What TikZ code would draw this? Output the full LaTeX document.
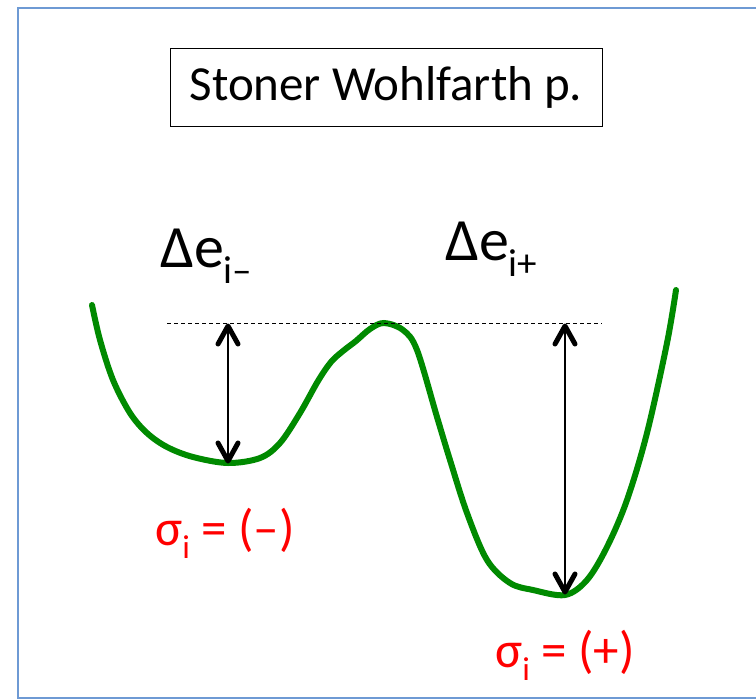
\documentclass[tikz,border=0pt]{standalone}
\usepackage{fontspec}
\setmainfont{Carlito}
\usepackage{tikz}
\usepackage{xcolor}
\usetikzlibrary{arrows.meta,positioning,calc}
\definecolor{ink}     {HTML}{000000}
\definecolor{wellgrn} {HTML}{008A00}
\definecolor{sigred}  {HTML}{FF0000}
\definecolor{framblue}{HTML}{6E9AD4}
\newcommand{\lowsub}[1]{\raisebox{-0.27em}{\scalebox{0.65}{#1}}}

\tikzset{
  titlebox/.style={draw=ink,line width=1pt,minimum width=432pt,minimum height=78pt,inner sep=0pt,font=\fontsize{49}{56}\selectfont},
  dlabel/.style={anchor=base west,inner sep=0pt,font=\fontsize{60}{70}\selectfont},
  slabel/.style={anchor=base west,inner sep=0pt,text=sigred,font=\fontsize{51}{60}\selectfont},
  well/.style={draw=wellgrn,line width=6pt,line cap=round},
  gap/.style={draw=ink,line width=1.6pt},
  barbhead/.style={draw=ink,line width=5pt,line cap=round,line join=round},
  level/.style={draw=ink,line width=0.9pt,dash pattern=on 4pt off 3pt}
}

\begin{document}
\begin{tikzpicture}[x=1pt,y=-1pt]
    \useasboundingbox (0,0) rectangle (756,699);
    \draw[framblue,line width=2pt] (18,8) rectangle (780,698);

    \node[titlebox] (title) at (386,87) {Stoner Wohlfarth p.};

    % energy landscape
    \draw[well] plot[smooth,tension=0.55] coordinates {(92,305) (100,340) (113,380) (130,413) (147,433) (167,447) (193,457) (228,463) (260,458) (280,443) (300,413) (318,381) (331,362) (343,351) (356,341) (370,329) (384,323) (403,330) (417,350) (437,417) (450,460) (467,513) (487,560) (510,583) (533,590) (565,595) (587,580) (607,547) (627,500) (647,433) (667,343) (676,290)};

    \coordinate (dashL) at (167,323);
    \coordinate (dashR) at (602,323);
    \coordinate (topL) at (228,326);
    \coordinate (minL) at (228,461);
    \coordinate (topR) at (565,326);
    \coordinate (minR) at (565,592);

    \draw[level] (dashL) -- (dashR);
    \draw[gap] (topL) -- (minL);
    \draw[gap] (topR) -- (minR);
    % heads
    \foreach \p in {topL,topR}
      \draw[barbhead] ($(\p)+(-10,18)$) -- (\p) -- ($(\p)+(10,18)$);
    \foreach \p in {minL,minR}
      \draw[barbhead] ($(\p)+(-10,-18)$) -- (\p) -- ($(\p)+(10,-18)$);

    \node[dlabel] (dminus) at (160,267) {Δe\lowsub{i–}};
    \node[dlabel] (dplus) at (445,260) {Δe\lowsub{i+}};

    \node[slabel] (sminus) at (155,545) {σ\lowsub{i} = (–)};
    \node[slabel] (splus) at (495,667) {σ\lowsub{i} = (+)};
  \end{tikzpicture}
\end{document}
